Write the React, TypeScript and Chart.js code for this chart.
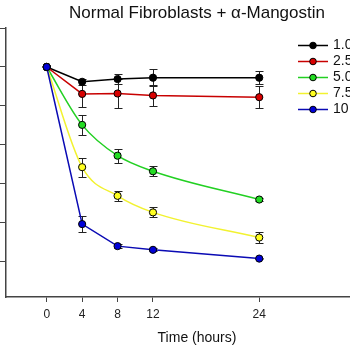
import React, { useEffect, useRef } from "react";
import { Chart, registerables } from "chart.js";

Chart.register(...registerables);

const titleText = "Normal Fibroblasts + \u03b1-Mangostin";
const xTitle = "Time (hours)";
const hours = [0, 4, 8, 12, 24];
const xTicks = [0, 4, 8, 12, 24];
const yTicks = [0, 20, 40, 60, 80, 100, 120];
const seriesLabels = ["1.0 \u00b5g/mL", "2.5 \u00b5g/mL", "5.0 \u00b5g/mL", "7.5 \u00b5g/mL", "10 \u00b5g/mL"];

const conc10 = [100, 92.4, 93.8, 94.5, 94.5];
const err10 = [0, 1.5, 2.5, 4.3, 3.3];
const conc25 = [100, 86.2, 86.4, 85.4, 84.5];
const err25 = [0, 6.7, 7.4, 5.4, 5.7];
const conc50 = [100, 70.3, 54.5, 46.5, 32];
const err50 = [0, 5, 3.6, 2.6, 1];
const conc75 = [100, 48.6, 33.9, 25.4, 12.5];
const err75 = [0, 4.8, 2.4, 2.6, 2.6];
const conc100 = [100, 19.4, 8.1, 6.2, 1.7];
const err100 = [0, 4, 1, 0.8, 0.4];

const lineColors = ["#000000", "#c80000", "#22d022", "#f2f230", "#0a0ab4"];
const fillColors = ["#000000", "#d80000", "#22dd22", "#ffff20", "#0000d8"];

const values = [conc10, conc25, conc50, conc75, conc100];
const errors = [err10, err25, err50, err75, err100];

const FONT = "'Liberation Sans', Arial, sans-serif";

const errorBarPlugin = {
  id: "errorBars",
  beforeDatasetsDraw(chart: any) {
    const ctx = chart.ctx;
    const ys = chart.scales.y;
    ctx.save();
    ctx.strokeStyle = "#222";
    ctx.lineWidth = 1;
    chart.data.datasets.forEach((ds: any, i: number) => {
      const meta = chart.getDatasetMeta(i);
      meta.data.forEach((pt: any, j: number) => {
        const e = ds.errors[j];
        if (!e) return;
        const v = ds.data[j].y;
        const top = Math.round(ys.getPixelForValue(v + e)) + 0.5;
        const bot = Math.round(ys.getPixelForValue(v - e)) + 0.5;
        const x = Math.round(pt.x) + 0.5;
        ctx.beginPath();
        ctx.moveTo(x, top);
        ctx.lineTo(x, bot);
        ctx.moveTo(x - 4, top);
        ctx.lineTo(x + 4, top);
        ctx.moveTo(x - 4, bot);
        ctx.lineTo(x + 4, bot);
        ctx.stroke();
      });
    });
    ctx.restore();
  },
};

const legendPlugin = {
  id: "customLegend",
  afterDraw(chart: any) {
    const ctx = chart.ctx;
    const x0 = 348;
    const y0 = 45.5;
    const step = 16;
    ctx.save();
    chart.data.datasets.forEach((ds: any, i: number) => {
      const y = y0 + i * step;
      ctx.strokeStyle = ds.borderColor;
      ctx.lineWidth = 1.5;
      ctx.beginPath();
      ctx.moveTo(x0, y);
      ctx.lineTo(x0 + 30, y);
      ctx.stroke();
      ctx.beginPath();
      ctx.arc(x0 + 15, y, 3.3, 0, Math.PI * 2);
      ctx.fillStyle = ds.pointBackgroundColor;
      ctx.fill();
      ctx.strokeStyle = "#000";
      ctx.lineWidth = 1;
      ctx.stroke();
      ctx.fillStyle = "#111";
      ctx.font = "14px " + FONT;
      ctx.textBaseline = "middle";
      ctx.textAlign = "left";
      ctx.fillText(ds.label, x0 + 35, y);
    });
    ctx.restore();
  },
};

export default function App() {
  const ref = useRef<HTMLCanvasElement>(null);
  useEffect(() => {
    document.body.style.margin = "0";
    const canvas = ref.current!;
    const datasets = values.map((vals, i) => ({
      label: seriesLabels[i],
      data: hours.map((h, j) => ({ x: h, y: vals[j] })),
      errors: errors[i],
      borderColor: lineColors[i],
      backgroundColor: fillColors[i],
      pointBackgroundColor: fillColors[i],
      pointBorderColor: "#000",
      pointBorderWidth: 1,
      pointRadius: 3.6,
      borderWidth: 1.5,
      cubicInterpolationMode: i === 2 || i === 3 ? "monotone" : "default",
      tension: 0,
      order: 5 - i,
    }));
    const chart = new Chart(canvas, {
      type: "line",
      data: { datasets } as any,
      options: {
        responsive: false,
        animation: false,
        devicePixelRatio: 1,
        layout: { padding: 0 },
        plugins: {
          legend: { display: false },
          tooltip: { enabled: false },
          title: {
            display: true,
            text: titleText,
            color: "#111",
            font: { family: FONT, size: 17, weight: "normal" },
            padding: { top: 3, bottom: 4.6 },
          },
          subtitle: {
            display: true,
            position: "bottom",
            text: xTitle,
            color: "#111",
            font: { family: FONT, size: 14, weight: "normal" },
            padding: { top: 0, bottom: 3.6 },
          },
        },
        scales: {
          x: {
            type: "linear",
            min: -4.6,
            max: 44.3,
            afterBuildTicks: (s: any) => {
              s.ticks = xTicks.map((v) => ({ value: v }));
            },
            afterFit: (s: any) => {
              s.height = 32.6;
            },
            ticks: {
              color: "#222",
              font: { family: FONT, size: 12 },
              padding: 5,
              maxRotation: 0,
            },
            grid: { drawOnChartArea: false, drawTicks: true, tickLength: 5, color: "#444" },
            border: { color: "#444", width: 1.5 },
          },
          y: {
            type: "linear",
            min: -18,
            max: 120,
            afterBuildTicks: (s: any) => {
              s.ticks = yTicks.map((v) => ({ value: v }));
            },
            afterFit: (s: any) => {
              s.width = 56;
            },
            ticks: {
              color: "#222",
              font: { family: FONT, size: 12 },
            },
            grid: { drawOnChartArea: false, drawTicks: true, tickLength: 6, color: "#444" },
            border: { color: "#444", width: 1.5 },
          },
        },
      },
      plugins: [errorBarPlugin, legendPlugin],
    } as any);
    return () => chart.destroy();
  }, []);
  return (
    <div
      style={{
        position: "fixed",
        left: 0,
        top: 0,
        width: 350,
        height: 350,
        overflow: "hidden",
        background: "#fff",
      }}
    >
      <canvas
        ref={ref}
        width={494}
        height={350}
        style={{ position: "absolute", left: -50, top: 0, width: 494, height: 350 }}
      />
    </div>
  );
}
